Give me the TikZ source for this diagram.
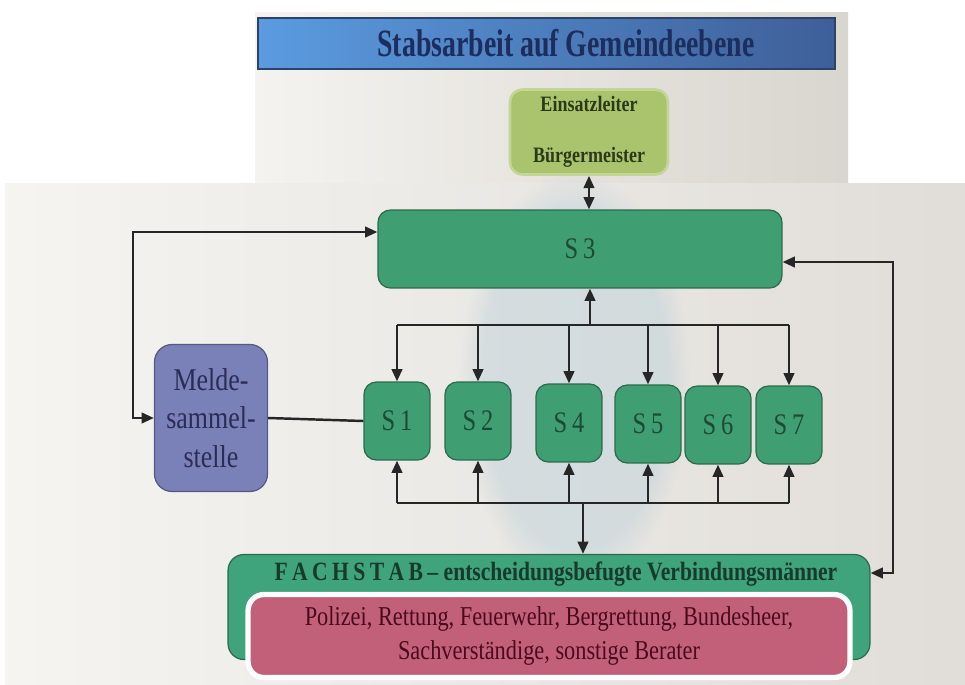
\documentclass[tikz,border=0pt]{standalone}
\usepackage{fontspec}
\setmainfont{Liberation Serif}
\newfontfamily\condfont[FakeStretch=0.82]{Liberation Serif}
\newfontfamily\narrowfont[FakeStretch=0.72]{Liberation Serif}
\usetikzlibrary{arrows.meta,fadings}

\definecolor{titleL}{HTML}{5B9BE0}
\definecolor{titleR}{HTML}{3E5F98}
\definecolor{titleText}{HTML}{1C2D5E}
\definecolor{leadFill}{HTML}{A9C46C}
\definecolor{leadText}{HTML}{2B3A1A}
\definecolor{sFill}{HTML}{3F9E72}
\definecolor{sEdge}{HTML}{2C6B4C}
\definecolor{sText}{HTML}{1E4A35}
\definecolor{meldeFill}{HTML}{7A80B8}
\definecolor{meldeText}{HTML}{2A2D55}
\definecolor{fachFill}{HTML}{3FA37C}
\definecolor{fachText}{HTML}{173A2A}
\definecolor{pinkFill}{HTML}{C2607A}
\definecolor{pinkText}{HTML}{4A0A1C}
\definecolor{panelA}{HTML}{F4F3EF}
\definecolor{panelB}{HTML}{D9D5CF}
\definecolor{smoke}{HTML}{B4CCD8}

\tikzset{
  box/.style={rounded corners=7pt, line width=0.7pt, align=center, inner sep=2pt},
  sbox/.style={box, draw=sEdge, fill=sFill, minimum width=1.32cm, minimum height=1.56cm,
    font=\condfont\fontsize{17}{20}\selectfont, text=sText},
  link/.style={line width=1.4pt, draw=black!85},
  tip/.style={link, -{Triangle[length=7pt,width=6pt]}},
  twotip/.style={link, {Triangle[length=7pt,width=6pt]}-{Triangle[length=7pt,width=6pt]}},
}

\begin{document}
\begin{tikzpicture}[x=0.02cm, y=-0.02cm]
  \useasboundingbox (0,0) rectangle (965,684);
  \fill[white] (0,0) rectangle (965,684);

  % upper panel with the title bar
  \shade[left color=panelA, right color=panelB] (255,12) rectangle (848,185);
  \shade[left color=titleL, right color=titleR, draw=titleR!70!black, line width=0.6pt]
    (258,18) rectangle (835,69);
  \node[font=\narrowfont\bfseries\fontsize{22}{26}\selectfont, text=titleText]
    (title) at (566,43) {Stabsarbeit auf Gemeindeebene};

  % lower panel with a soft bluish haze in the middle
  \shade[left color=panelA!90!white, right color=panelB!80!white] (5,183) rectangle (965,684);
  \fill[smoke, opacity=0.4, path fading=circle with fuzzy edge 20 percent]
    (575,380) ellipse (115 and 210);

  % leader
  \node[box, draw=leadFill!70!white, line width=1.5pt, fill=leadFill,
        minimum width=3.16cm, minimum height=1.7cm,
        font=\condfont\bfseries\fontsize{12.5}{15}\selectfont, text=leadText]
    (lead) at (589,132) {Einsatzleiter\\[14pt]Bürgermeister};

  % S3
  \node[box, draw=sEdge, fill=sFill, minimum width=8.08cm, minimum height=1.56cm,
        font=\condfont\fontsize{17}{20}\selectfont, text=sText]
    (s3) at (580,249) {S\,3};

  % reporting post
  \node[box, rounded corners=10pt, draw=meldeFill!70!black, fill=meldeFill,
        minimum width=2.26cm, minimum height=2.94cm,
        font=\condfont\fontsize{18}{22}\selectfont, text=meldeText]
    (melde) at (211,418) {Melde-\\sammel-\\stelle};

  % staff units
  \node[sbox] (s1) at (397,421) {S\,1};
  \node[sbox] (s2) at (478,421) {S\,2};
  \node[sbox] (s4) at (569,423) {S\,4};
  \node[sbox] (s5) at (648,424) {S\,5};
  \node[sbox] (s6) at (718,425) {S\,6};
  \node[sbox] (s7) at (789,425) {S\,7};

  % specialist staff
  \node[box, rounded corners=9pt, draw=sEdge, fill=fachFill,
        minimum width=12.84cm, minimum height=2.1cm] (fach) at (549,607) {};
  \node[font=\condfont\bfseries\fontsize{15}{18}\selectfont, text=fachText, anchor=base]
    (fachtitle) at (556,580) {F\,A\,C\,H\,S\,T\,A\,B\,– entscheidungsbefugte Verbindungsmänner};
  \node[box, rounded corners=9pt, draw=white, line width=3pt, fill=pinkFill,
        minimum width=12.04cm, minimum height=1.66cm,
        font=\condfont\fontsize{15.5}{19}\selectfont, text=pinkText]
    (pink) at (549,636) {Polizei, Rettung, Feuerwehr, Bergrettung, Bundesheer,\\Sachverständige, sonstige Berater};

  % connectors
  \draw[twotip] (lead.south) -- (lead.south |- s3.north);

  \coordinate (lt) at (133,232);
  \draw[twotip] (s3.west |- lt) -- (lt) |- (melde.west);

  \coordinate (rt) at (893,262);
  \coordinate (rb) at (893,573);
  \draw[twotip] (s3.east |- rt) -- (rt) -- (rb) -- (fach.east |- rb);

  \draw[link] (melde.east) -- (s1.west);

  \coordinate (tb) at (590,325);
  \draw[link] (s1 |- tb) -- (s7 |- tb);
  \draw[tip] (tb) -- (tb |- s3.south);
  \foreach \s in {s1,s2,s4,s5,s6,s7}
    \draw[tip] (\s |- tb) -- (\s.north);

  \coordinate (bb) at (583,503);
  \draw[link] (s1 |- bb) -- (s7 |- bb);
  \draw[tip] (bb) -- (bb |- fach.north);
  \foreach \s in {s1,s2,s4,s5,s6,s7}
    \draw[tip] (\s |- bb) -- (\s.south);
\end{tikzpicture}
\end{document}
